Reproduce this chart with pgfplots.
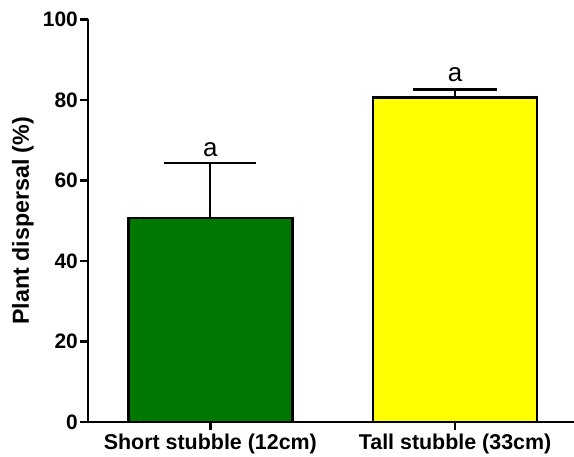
\documentclass[border=0pt]{standalone}
\usepackage{fontspec}
\setmainfont{Liberation Sans}
\usepackage{pgfplots}
\pgfplotsset{compat=1.18}
\definecolor{bargreen}{RGB}{0,120,0}
\definecolor{baryellow}{RGB}{255,255,0}
\begin{document}
\begin{tikzpicture}
\begin{axis}[
  anchor=south west, at={(0,0)},
  scale only axis, width=486bp, height=402.5bp,
  xmin=-0.5, xmax=1.486, ymin=0, ymax=100,
  axis lines*=left,
  axis line style={line width=2.5bp, black},
  tick style={line width=2.5bp, black},
  major tick length=8bp,
  tick align=outside,
  xtick={0,1}, xticklabels={Short stubble (12cm), Tall stubble (33cm)},
  ytick={0,20,40,60,80,100},
  /pgf/number format/assume math mode=true,
  yticklabel style={font=\fontsize{21}{24}\selectfont\bfseries, inner sep=2bp},
  xticklabel style={font=\fontsize{21.5}{25}\selectfont\bfseries},
  ylabel={Plant dispersal (\%)},
  ylabel style={font=\fontsize{23.3}{27}\selectfont\bfseries, at={([xshift=-54bp]axis description cs:0,0.5)}, anchor=south, inner sep=0pt, rotate=0},
  clip=false,
]
\addplot[ybar, bar width=164bp, fill=bargreen, draw=black, line width=2.5bp,
  error bars/.cd, y dir=plus, y explicit,
  error bar style={line width=2.2bp, black},
  error mark options={rotate=90, mark size=46bp, line width=2.2bp, black}]
  coordinates {(0,50.7) +- (0,13.6)};
\addplot[ybar, bar width=164bp, fill=baryellow, draw=black, line width=2.5bp,
  error bars/.cd, y dir=plus, y explicit,
  error bar style={line width=2.2bp, black},
  error mark options={rotate=90, mark size=42bp, line width=2.2bp, black}]
  coordinates {(1,80.6) +- (0,2.0)};
\node[anchor=base, inner sep=0pt, font=\fontsize{26}{30}\selectfont] at ([yshift=7bp]axis cs:0,64.3) {a};
\node[anchor=base, inner sep=0pt, font=\fontsize{26}{30}\selectfont] at ([yshift=8bp]axis cs:1,82.6) {a};
\end{axis}
\pgfresetboundingbox
\path (-88bp,-35bp) rectangle (486bp,422bp);
\end{tikzpicture}
\end{document}
